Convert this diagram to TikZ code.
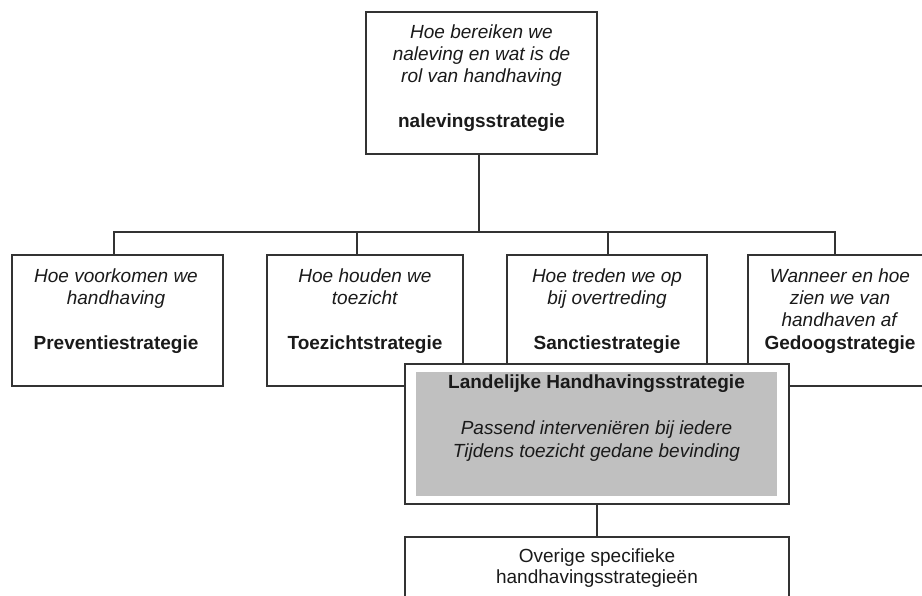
\documentclass[tikz,border=0pt]{standalone}
\usepackage{fontspec}
\setmainfont{Liberation Sans}
\definecolor{linec}{HTML}{333333}
\definecolor{grayfill}{HTML}{C0C0C0}
\definecolor{textc}{HTML}{1A1A1A}
\begin{document}
\begin{tikzpicture}[x=1pt,y=-1pt,
  box/.style={draw=linec, line width=1.3pt, fill=white, inner sep=0pt, outer sep=0pt},
  graybox/.style={fill=grayfill, draw=none, inner sep=0pt, outer sep=0pt},
  txt/.style={inner sep=0pt, align=center, anchor=north, text=textc, font=\fontsize{19}{22.3}\selectfont},
  txtl/.style={txt, font=\fontsize{19}{23}\selectfont},
  txto/.style={txt, font=\fontsize{19}{21}\selectfont},
  conn/.style={draw=linec, line width=1.3pt}]
\path[use as bounding box, clip] (0,0) rectangle (922,596);
\fill[white] (0,0) rectangle (922,596);
% boxes
\node[box, minimum width=231pt, minimum height=142pt] (top) at (481.5,83) {};
\node[box, minimum width=211pt, minimum height=131pt] (prev) at (117.5,320.5) {};
\node[box, minimum width=196pt, minimum height=131pt] (toez) at (365,320.5) {};
\node[box, minimum width=200pt, minimum height=131pt] (sanc) at (607,320.5) {};
\node[box, minimum width=184pt, minimum height=131pt] (gedo) at (840,320.5) {};
% connectors
\draw[conn] ([xshift=-2.5pt]top.south) -- ++(0,78) coordinate (hub);
\draw[conn] (hub) -| ([xshift=-3.5pt]prev.north);
\draw[conn] (hub) -| ([xshift=-8pt]toez.north);
\draw[conn] (hub) -| ([xshift=1pt]sanc.north);
\draw[conn] (hub) -| ([xshift=-5pt]gedo.north);
% landelijke
\node[box, minimum width=384pt, minimum height=140pt] (land) at (597,434) {};
\node[graybox, minimum width=361pt, minimum height=124pt] (landin) at (596.5,434) {};
\node[box, minimum width=384pt, minimum height=100pt] (over) at (597,587) {};
\draw[conn] (land.south) -- (over.north);
% texts
\node[txt] (toptxt) at (481.5,22.4) {\strut\textit{Hoe bereiken we}\\\textit{naleving en wat is de}\\\textit{rol van handhaving}\\[22.3pt]\textbf{nalevingsstrategie}};
\node[txt] (prevtxt) at (116,266.4) {\strut\textit{Hoe voorkomen we}\\\textit{handhaving}\\[22.3pt]\textbf{Preventiestrategie}};
\node[txt] (toeztxt) at (365,266.4) {\strut\textit{Hoe houden we}\\\textit{toezicht}\\[22.3pt]\textbf{Toezichtstrategie}};
\node[txt] (sanctxt) at (607,266.4) {\strut\textit{Hoe treden we op}\\\textit{bij overtreding}\\[22.3pt]\textbf{Sanctiestrategie}};
\node[txt] (gedotxt) at (840,266.4) {\strut\textit{Wanneer en hoe}\\\textit{zien we van}\\\textit{handhaven af}\\\textbf{Gedoogstrategie}};
\node[txtl] (landtxt) at (596.5,371.9) {\strut\textbf{Landelijke Handhavingsstrategie}\\[23pt]\textit{Passend interveniëren bij iedere}\\\textit{Tijdens toezicht gedane bevinding}};
\node[txto] (overtxt) at (597,547.3) {\strut Overige specifieke\\handhavingsstrategieën};
\end{tikzpicture}
\end{document}
